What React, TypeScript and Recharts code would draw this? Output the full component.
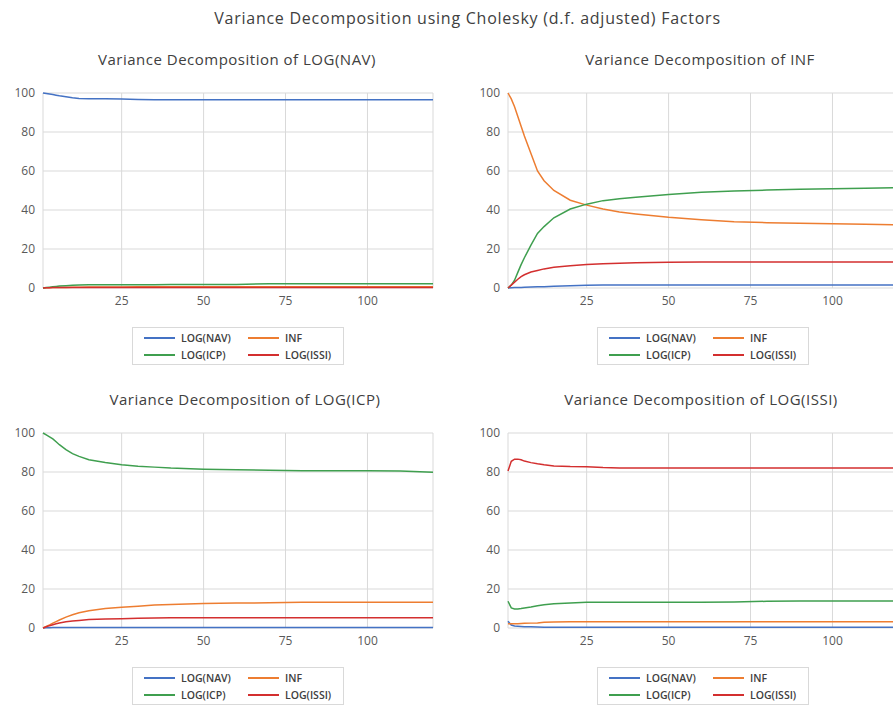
import { CartesianGrid, Line, LineChart, XAxis, YAxis } from 'recharts'

const periods = [1, 2, 3, 4, 5, 6, 8, 10, 12, 15, 20, 25, 30, 35, 40, 50, 60, 70, 80, 90, 100, 110, 120]

const seriesNames = ['LOG(NAV)', 'INF', 'LOG(ICP)', 'LOG(ISSI)']
const seriesColors = ['#4472c4', '#ed7d31', '#3f9f4f', '#d32f2f']

// Variance Decomposition of LOG(NAV)
const navNav = [100, 99.8, 99.5, 99.2, 98.9, 98.6, 98.1, 97.6, 97.2, 97.0, 97.0, 96.9, 96.7, 96.6, 96.6, 96.6, 96.6, 96.6, 96.6, 96.6, 96.6, 96.6, 96.6]
const navInf = [0, 0.1, 0.1, 0.2, 0.2, 0.3, 0.3, 0.4, 0.4, 0.5, 0.5, 0.5, 0.6, 0.6, 0.6, 0.6, 0.6, 0.6, 0.6, 0.6, 0.6, 0.6, 0.6]
const navIcp = [0, 0.2, 0.4, 0.6, 0.8, 1.0, 1.2, 1.4, 1.6, 1.7, 1.7, 1.7, 1.7, 1.7, 1.8, 1.8, 1.8, 2.2, 2.2, 2.2, 2.2, 2.2, 2.2]
const navIssi = [0, 0.1, 0.1, 0.2, 0.2, 0.2, 0.3, 0.3, 0.3, 0.3, 0.3, 0.3, 0.3, 0.3, 0.3, 0.3, 0.3, 0.3, 0.3, 0.3, 0.3, 0.3, 0.3]

// Variance Decomposition of INF
const infNav = [0, 0.1, 0.2, 0.2, 0.3, 0.4, 0.5, 0.6, 0.7, 0.9, 1.1, 1.4, 1.5, 1.5, 1.5, 1.5, 1.5, 1.5, 1.5, 1.5, 1.5, 1.5, 1.5]
const infInf = [100, 97, 93, 88, 83, 78, 69, 60, 55, 50, 45, 42.5, 40.5, 39, 38, 36.3, 35, 34, 33.5, 33.2, 33, 32.7, 32.4]
const infIcp = [0, 1.5, 4, 8, 12, 15.5, 22, 28, 31.5, 36, 40.5, 43, 44.8, 45.8, 46.6, 48, 49.1, 49.7, 50.2, 50.6, 50.9, 51.2, 51.4]
const infIssi = [0, 1.5, 3, 4.5, 5.8, 6.8, 8.2, 9, 9.8, 10.6, 11.4, 12, 12.4, 12.7, 12.9, 13.2, 13.3, 13.3, 13.3, 13.3, 13.3, 13.3, 13.3]

// Variance Decomposition of LOG(ICP)
const icpNav = [0, 0.1, 0.1, 0.2, 0.2, 0.2, 0.3, 0.3, 0.3, 0.3, 0.3, 0.3, 0.3, 0.3, 0.3, 0.3, 0.3, 0.3, 0.3, 0.3, 0.3, 0.3, 0.3]
const icpInf = [0, 0.8, 1.6, 2.5, 3.3, 4.1, 5.6, 6.8, 7.8, 8.9, 10, 10.6, 11.2, 11.8, 12.1, 12.6, 12.8, 12.9, 13.2, 13.2, 13.2, 13.2, 13.2]
const icpIcp = [100, 99, 98, 97, 95.5, 94, 91.5, 89.4, 88, 86.3, 84.9, 83.7, 83, 82.5, 82, 81.4, 81.1, 80.9, 80.6, 80.6, 80.6, 80.5, 79.9]
const icpIssi = [0, 0.6, 1.2, 1.7, 2.2, 2.6, 3.2, 3.6, 3.9, 4.3, 4.6, 4.8, 5, 5.1, 5.2, 5.3, 5.3, 5.3, 5.3, 5.3, 5.3, 5.3, 5.3]

// Variance Decomposition of LOG(ISSI)
const issiNav = [3.4, 1.5, 1.0, 0.9, 0.8, 0.7, 0.6, 0.5, 0.4, 0.4, 0.4, 0.4, 0.4, 0.4, 0.4, 0.4, 0.4, 0.4, 0.4, 0.4, 0.4, 0.4, 0.4]
const issiInf = [2.2, 2.2, 2.2, 2.2, 2.3, 2.4, 2.5, 2.6, 3.0, 3.1, 3.2, 3.2, 3.2, 3.2, 3.2, 3.2, 3.2, 3.2, 3.2, 3.2, 3.2, 3.2, 3.2]
const issiIcp = [13.7, 10.3, 9.8, 9.8, 10, 10.3, 10.8, 11.4, 11.9, 12.4, 12.8, 13.2, 13.2, 13.2, 13.2, 13.2, 13.2, 13.3, 13.7, 13.8, 13.8, 13.9, 13.9]
const issiIssi = [80.5, 85.5, 86.6, 86.6, 86.3, 85.6, 84.8, 84.2, 83.7, 83.1, 82.8, 82.7, 82.3, 82.1, 82, 82, 82, 82, 82, 82, 82, 82, 82]

const xTicks = [25, 50, 75, 100]
const yTicks = [0, 20, 40, 60, 80, 100]

const keys = ['nav', 'inf', 'icp', 'issi']

function buildRows(cols: number[][]) {
  return periods.map((p, i) => {
    const row: Record<string, number> = { period: p }
    keys.forEach((k, j) => (row[k] = cols[j][i]))
    return row
  })
}

const panels = [
  { title: 'Variance Decomposition of LOG(NAV)', left: 0, top: 80, titleX: 237, titleY: 60, legendX: 132, legendY: 327, rows: buildRows([navNav, navInf, navIcp, navIssi]) },
  { title: 'Variance Decomposition of INF', left: 465, top: 80, titleX: 700, titleY: 60, legendX: 597, legendY: 327, rows: buildRows([infNav, infInf, infIcp, infIssi]) },
  { title: 'Variance Decomposition of LOG(ICP)', left: 0, top: 420, titleX: 245, titleY: 400, legendX: 132, legendY: 667, rows: buildRows([icpNav, icpInf, icpIcp, icpIssi]) },
  { title: 'Variance Decomposition of LOG(ISSI)', left: 465, top: 420, titleX: 701, titleY: 400, legendX: 597, legendY: 667, rows: buildRows([issiNav, issiInf, issiIcp, issiIssi]) },
]

const font = "'Open Sans', sans-serif"
const tickStyle = { fontSize: 12, fill: '#595959', fontFamily: font }

function LegendBox({ x, y }: { x: number; y: number }) {
  return (
    <div
      style={{
        position: 'absolute',
        left: x,
        top: y,
        width: 212,
        height: 38,
        border: '1px solid #d9d9d9',
        boxSizing: 'border-box',
        background: '#fff',
      }}
    >
      {seriesNames.map((name, i) => {
        const col = i % 2
        const row = Math.floor(i / 2)
        return (
          <div key={name} style={{ position: 'absolute', left: 11 + col * 104, top: 2 + row * 17, height: 16, display: 'flex', alignItems: 'center' }}>
            <div style={{ width: 31, height: 2, background: seriesColors[i] }} />
            <span style={{ marginLeft: 6, fontSize: 10.5, fontWeight: 600, color: '#404040', fontFamily: font }}>{name}</span>
          </div>
        )
      })}
    </div>
  )
}

export default function App() {
  return (
    <div style={{ position: 'absolute', left: 0, top: 0, width: 893, height: 709, overflow: 'hidden', background: '#fff', fontFamily: font }}>
      <div style={{ position: 'absolute', left: 0, width: 935, top: 7, textAlign: 'center', fontSize: 16, color: '#404040', letterSpacing: 0.75 }}>
        Variance Decomposition using Cholesky (d.f. adjusted) Factors
      </div>
      {panels.map((p) => (
        <div key={p.title}>
          <div style={{ position: 'absolute', left: p.titleX - 200, width: 400, top: p.titleY - 11, textAlign: 'center', fontSize: 15, color: '#404040', letterSpacing: 0.5 }}>
            {p.title}
          </div>
          <div style={{ position: 'absolute', left: p.left, top: p.top }}>
            <LineChart width={445} height={240} data={p.rows} margin={{ top: 13, right: 12, bottom: 2, left: 0 }}>
              <CartesianGrid stroke="#d9d9d9" strokeWidth={1} />
              <XAxis
                dataKey="period"
                type="number"
                domain={[1, 120]}
                ticks={xTicks}
                axisLine={false}
                tickLine={false}
                tick={tickStyle}
                height={30}
              />
              <YAxis domain={[0, 100]} ticks={yTicks} axisLine={false} tickLine={false} tick={tickStyle} width={43} />
              {keys.map((k, i) => (
                <Line
                  key={k}
                  dataKey={k}
                  name={seriesNames[i]}
                  stroke={seriesColors[i]}
                  strokeWidth={1.5}
                  dot={false}
                  type="linear"
                  isAnimationActive={false}
                />
              ))}
            </LineChart>
          </div>
          <LegendBox x={p.legendX} y={p.legendY} />
        </div>
      ))}
    </div>
  )
}
